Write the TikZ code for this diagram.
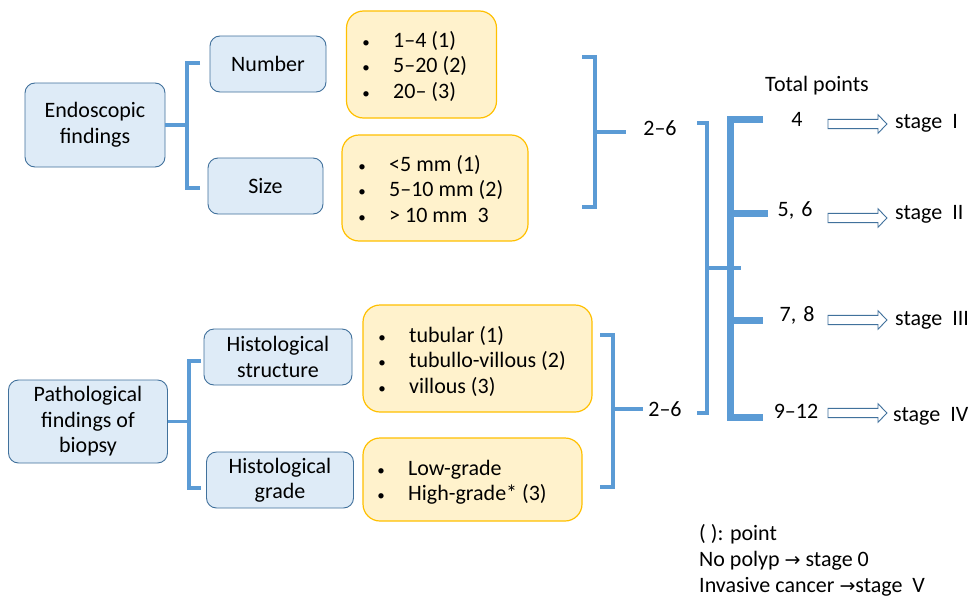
\documentclass[tikz,border=0pt]{standalone}
\usepackage{fontspec}
\setmainfont{Carlito}
\newfontfamily\symfont{DejaVu Sans}
\definecolor{boxblue}{HTML}{DEEBF7}
\definecolor{boxedge}{HTML}{41719C}
\definecolor{notefill}{HTML}{FFF2CC}
\definecolor{noteedge}{HTML}{FFC000}
\definecolor{bracket}{HTML}{5B9BD5}
\newcommand\fs{\fontsize{22}{25.5}\selectfont}
\newcommand\bul{\llap{\makebox[54pt]{\fontsize{15}{15}\selectfont\textbullet}}}
\newcommand\rarr{{\symfont\fontsize{19}{20}\selectfont →}}
\tikzset{
  catbox/.style={draw=boxedge, line width=0.9pt, fill=boxblue, rounded corners=10pt,
    align=center, font=\fs, inner sep=0pt},
  listbox/.style={draw=noteedge, line width=1.2pt, fill=notefill, rounded corners=17pt, inner sep=0pt},
  listtext/.style={anchor=west, align=left, font=\fs, inner sep=0pt},
  lbl/.style={font=\fs, inner sep=0pt},
  brace/.style={draw=bracket, line width=3.5pt, line join=miter},
  trunk/.style={draw=bracket, line width=7pt, line join=miter},
  hollow/.pic={\draw[boxedge, line width=0.9pt, fill=white]
    (0,-4.6) -- (50,-4.6) -- (50,-9.2) -- (59,0) -- (50,9.2) -- (50,4.6) -- (0,4.6) -- cycle;}
}
\begin{document}
\begin{tikzpicture}[x=1pt, y=-1pt]
\useasboundingbox[fill=white] (0,0) rectangle (971,597);

% ---- endoscopic branch ----
\node[catbox, minimum width=140pt, minimum height=84pt] (endo) at (95,125) {Endoscopic\\findings};
\node[catbox, minimum width=116pt, minimum height=56pt] (number) at (268,64) {Number};
\node[catbox, minimum width=115pt, minimum height=56pt] (size) at (265.5,186) {Size};

\node[listbox, minimum width=150pt, minimum height=107pt] (numlist) at (421.5,64.5) {};
\node[listtext] (numtext) at (393,66) {\bul 1–4 (1)\\ \bul 5–20 (2)\\ \bul 20– (3)};
\node[listbox, minimum width=186pt, minimum height=106pt] (sizelist) at (435,188) {};
\node[listtext] (sizetext) at (389,189) {\bul <5 mm (1)\\ \bul 5–10 mm (2)\\ \bul > 10 mm\ \ 3};

\coordinate (eb) at (187,126);
\coordinate (ebt) at (200,63);
\coordinate (ebb) at (200,188);
\draw[brace] (ebt) -- (ebt -| eb) -- (ebb -| eb) -- (ebb);
\draw[brace] (endo.east) -- (endo.east -| eb);

% ---- pathological branch ----
\node[catbox, minimum width=159pt, minimum height=83pt] (patho) at (88,421.5) {Pathological\\findings of\\biopsy};
\node[catbox, minimum width=148pt, minimum height=56pt] (hstruct) at (278,357) {Histological\\structure};
\node[catbox, minimum width=147pt, minimum height=56pt] (hgrade) at (280,480) {Histological\\grade};

\node[listbox, minimum width=229pt, minimum height=107pt] (structlist) at (477.5,358.5) {};
\node[listtext] (structtext) at (409,361) {\bul tubular (1)\\ \bul tubullo-villous (2)\\ \bul villous (3)};
\node[listbox, minimum width=219pt, minimum height=83pt] (gradelist) at (472.5,479.5) {};
\node[listtext] (gradetext) at (408,482) {\bul Low-grade\\ \bul High-grade* (3)};

\coordinate (pb) at (189,424);
\coordinate (pbt) at (201,361);
\coordinate (pbb) at (201,488);
\draw[brace] (pbt) -- (pbt -| pb) -- (pbb -| pb) -- (pbb);
\draw[brace] (patho.east) -- (patho.east -| pb);

% ---- subtotals ----
\coordinate (r1) at (595,132);
\coordinate (r1t) at (582,57);
\coordinate (r1b) at (582,207);
\coordinate (r1e) at (626,132);
\draw[brace] (r1t) -- (r1t -| r1) -- (r1b -| r1) -- (r1b);
\draw[brace] (r1) -- (r1e);
\node[lbl] (sum1) at (660,128) {2–6};

\coordinate (r2) at (613,409);
\coordinate (r2t) at (600,335);
\coordinate (r2b) at (600,487);
\coordinate (r2e) at (643,409);
\draw[brace] (r2t) -- (r2t -| r2) -- (r2b -| r2) -- (r2b);
\draw[brace] (r2) -- (r2e);
\node[lbl] (sum2) at (665,409) {2–6};

% ---- total ----
\coordinate (tb) at (707,268);
\coordinate (tbt) at (697,123);
\coordinate (tbb) at (697,413);
\coordinate (tbe) at (741,268);
\draw[brace] (tbt) -- (tbt -| tb) -- (tbb -| tb) -- (tbb);
\draw[brace] (tb) -- (tbe);

\node[lbl] (total) at (817,86) {Total points};
\node[lbl] (p1) at (797,119) {4};
\node[lbl] (p2) at (795,210) {5,\hspace{7pt}6};
\node[lbl] (p3) at (797,315) {7,\hspace{7pt}8};
\node[lbl] (p4) at (796,411) {9–12};

\coordinate (tk) at (730,119);
\draw[trunk] (763,119) -- (tk) -- (730,417) -- (763,417);
\draw[trunk] (730,213) -- (768,213);
\draw[trunk] (730,320) -- (763,320);

% ---- stages ----
\pic at (828,124) {hollow};
\pic at (828,218) {hollow};
\pic at (828,320) {hollow};
\pic at (828,413) {hollow};
\node[lbl, anchor=west] (s1) at (895,123) {stage\ \ I};
\node[lbl, anchor=west] (s2) at (895,214) {stage\ \ II};
\node[lbl, anchor=west] (s3) at (895,320) {stage\ \ III};
\node[lbl, anchor=west] (s4) at (893,416) {stage\ \ IV};

% ---- notes ----
\node[lbl, anchor=south west, align=left, font=\fontsize{22}{26}\selectfont] (notes) at (699,596)
  {( ): point\\ No polyp \rarr{} stage 0\\ Invasive cancer \rarr stage\ \ V};
\end{tikzpicture}
\end{document}
